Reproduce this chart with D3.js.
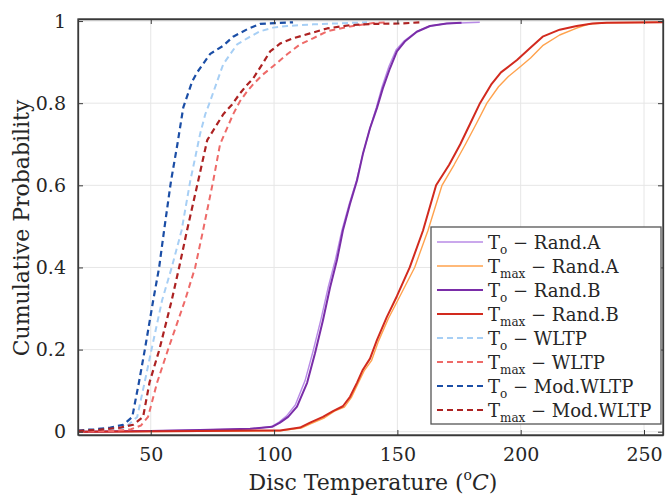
<!DOCTYPE html>
<html>
<head>
<meta charset="utf-8">
<script src="https://cdn.jsdelivr.net/npm/d3@7"></script>
<style>
body { margin: 0; background: #fff; }
svg text { font-family: "DejaVu Serif", serif !important; fill: #262626; }
</style>
</head>
<body>
<svg id="chart" width="665" height="497"></svg>
<script>
const toRandA = [[20.6,0],[49.8,0.002],[70,0.004],[90.3,0.007],[98.8,0.012],[101.9,0.023],[105,0.038],[108.6,0.065],[112.6,0.125],[115.8,0.196],[119.1,0.276],[122,0.353],[124.9,0.42],[127.5,0.49],[130.5,0.555],[133.4,0.611],[136,0.676],[138.9,0.739],[141.5,0.79],[143.8,0.84],[146.6,0.89],[149.5,0.93],[152.8,0.952],[157.9,0.975],[163.2,0.988],[170,0.994],[183.4,0.997]]
const tmaxRandA = [[20.6,0],[70,0.001],[102.4,0.002],[111,0.009],[115,0.02],[120.5,0.034],[124.5,0.05],[128.5,0.06],[131.3,0.083],[134,0.117],[136.5,0.148],[139.5,0.173],[142.3,0.22],[146.3,0.275],[150.6,0.325],[157,0.4],[162.4,0.49],[168.1,0.6],[173,0.65],[177.6,0.7],[182,0.75],[186.3,0.8],[191,0.84],[195,0.865],[199.7,0.888],[204,0.91],[208.9,0.94],[215.8,0.966],[222.7,0.983],[227.9,0.993],[234.8,0.996],[258.3,0.997]]
const toRandB = [[20.6,0],[49.8,0.002],[70,0.004],[90.3,0.007],[99.2,0.012],[102.4,0.022],[105.7,0.036],[109.3,0.061],[113.4,0.119],[116.6,0.191],[119.8,0.271],[122.7,0.351],[125.5,0.418],[127.9,0.49],[130.8,0.555],[133.6,0.611],[136,0.676],[138.9,0.739],[141.7,0.788],[144.1,0.836],[147,0.885],[149.8,0.926],[153,0.95],[157.9,0.974],[163.2,0.988],[170,0.994],[176,0.996]]
const tmaxRandB = [[20.6,0],[70,0.002],[102.4,0.003],[110.5,0.01],[114.6,0.022],[119.8,0.036],[123.9,0.05],[127.9,0.062],[130.8,0.085],[133.6,0.119],[136,0.151],[138.9,0.178],[141.7,0.223],[145.7,0.279],[149.8,0.33],[155,0.4],[160.4,0.49],[165.7,0.6],[171,0.65],[175.5,0.7],[179.5,0.75],[183.5,0.8],[188,0.845],[192,0.875],[198.5,0.905],[203.6,0.933],[208.9,0.962],[215.8,0.979],[222.7,0.988],[229.1,0.994],[234.8,0.996],[258.3,0.997]]
const toWLTP = [[20.6,0.002],[33.6,0.005],[39.7,0.01],[44.5,0.036],[47.5,0.12],[50.3,0.2],[54.6,0.32],[58.5,0.4],[62.5,0.49],[66,0.61],[68,0.667],[70,0.725],[72.1,0.773],[74.1,0.805],[76.9,0.853],[79.4,0.895],[82.2,0.919],[85,0.943],[89.1,0.958],[94.3,0.975],[99.6,0.984],[105.3,0.988],[115.8,0.992],[137.7,0.997]]
const tmaxWLTP = [[20.6,0],[35,0.002],[42,0.006],[46,0.015],[48.9,0.036],[52.6,0.12],[57,0.2],[63.9,0.32],[68,0.4],[71.2,0.49],[75.3,0.61],[78.1,0.7],[81,0.74],[83.4,0.773],[86.2,0.805],[89.1,0.829],[91.5,0.846],[95.5,0.87],[99.6,0.89],[105.3,0.919],[110.5,0.943],[115.8,0.958],[121.5,0.975],[130.8,0.987],[140.1,0.995],[145.7,0.997]]
const toModWLTP = [[20.6,0.003],[27,0.006],[33.6,0.01],[38.9,0.017],[42.5,0.036],[45.2,0.12],[47.6,0.2],[51,0.32],[53.4,0.4],[55.4,0.49],[58.2,0.61],[60.8,0.7],[63.2,0.79],[66.8,0.853],[68.8,0.875],[74.1,0.92],[79.4,0.94],[83.4,0.962],[89.1,0.98],[94.3,0.993],[100.4,0.995],[107.7,0.997]]
const tmaxModWLTP = [[20.6,0.002],[29.6,0.005],[37.7,0.01],[42.9,0.017],[46.9,0.036],[49.5,0.12],[53.5,0.2],[58.5,0.32],[61.5,0.4],[64.7,0.49],[69.2,0.61],[72.9,0.71],[76.9,0.749],[79.4,0.773],[83,0.797],[86.2,0.824],[89.1,0.845],[91.5,0.86],[95.1,0.894],[98.4,0.926],[102.4,0.945],[107.7,0.958],[114.6,0.97],[121.5,0.982],[130.8,0.99],[140.1,0.993],[151,0.994],[159.9,0.997]]

const xTicks = [50, 100, 150, 200, 250]
const yTicks = [0, 0.2, 0.4, 0.6, 0.8, 1]
const subs = ["o", "max", "o", "max", "o", "max", "o", "max"]
const cases = ["Rand.A", "Rand.A", "Rand.B", "Rand.B", "WLTP", "WLTP", "Mod.WLTP", "Mod.WLTP"]

// drawing order = legend order
const series = [
    { data: toRandA, color: "#b88be6", w: 1.4, dash: null },
    { data: tmaxRandA, color: "#ffa24d", w: 1.4, dash: null },
    { data: toRandB, color: "#7a2da8", w: 2, dash: null },
    { data: tmaxRandB, color: "#d22a1e", w: 2, dash: null },
    { data: toWLTP, color: "#a7cff5", w: 2, dash: "6,4" },
    { data: tmaxWLTP, color: "#ee6a68", w: 2, dash: "6,4" },
    { data: toModWLTP, color: "#1b4ea6", w: 2.2, dash: "6,4" },
    { data: tmaxModWLTP, color: "#ad2222", w: 2.2, dash: "6,4" }
]

const L = 78, R = 663, T = 19, B = 435
const svg = d3.select("#chart")

const x = d3.scaleLinear().domain([20.5, 257.7]).range([L, R])
const y = d3.scaleLinear().domain([-0.008, 1.005]).range([B, T])

// grid
svg.append("g").selectAll("line").data(xTicks).enter().append("line")
    .attr("x1", d => x(d)).attr("x2", d => x(d)).attr("y1", T).attr("y2", B)
    .attr("stroke", "#e6e6e6").attr("stroke-width", 1)
svg.append("g").selectAll("line").data(yTicks).enter().append("line")
    .attr("x1", L).attr("x2", R).attr("y1", d => y(d)).attr("y2", d => y(d))
    .attr("stroke", "#e6e6e6").attr("stroke-width", 1)

svg.append("clipPath").attr("id", "clip")
    .append("rect").attr("x", L).attr("y", T - 3).attr("width", R - L).attr("height", B - T + 3)

const line = d3.line().x(d => x(d[0])).y(d => y(d[1]))
svg.append("g").attr("clip-path", "url(#clip)")
    .selectAll("path").data(series).enter().append("path")
    .attr("d", d => line(d.data))
    .attr("fill", "none")
    .attr("stroke", d => d.color)
    .attr("stroke-width", d => d.w)
    .attr("stroke-dasharray", d => d.dash)
    .attr("stroke-linejoin", "round")

// axes (ticks inside, box on)
const fmt = d => d == 0 ? "0" : d == 1 ? "1" : d3.format(".1f")(d)
const xb = svg.append("g").attr("transform", "translate(0," + B + ")")
    .call(d3.axisBottom(x).tickValues(xTicks).tickSizeInner(-5).tickSizeOuter(0).tickPadding(13))
const xt = svg.append("g").attr("transform", "translate(0," + T + ")")
    .call(d3.axisTop(x).tickValues(xTicks).tickSizeInner(-5).tickSizeOuter(0).tickFormat(""))
const yl = svg.append("g").attr("transform", "translate(" + L + ",0)")
    .call(d3.axisLeft(y).tickValues(yTicks).tickFormat(fmt).tickSizeInner(-5).tickSizeOuter(0).tickPadding(12))
const yr = svg.append("g").attr("transform", "translate(" + R + ",0)")
    .call(d3.axisRight(y).tickValues(yTicks).tickSizeInner(-5).tickSizeOuter(0).tickFormat(""))
;[xb, xt, yl, yr].forEach(g => {
    g.attr("font-family", null)
    g.select(".domain").attr("stroke", "#3a3a3a").attr("stroke-width", 1.3)
    g.selectAll(".tick line").attr("stroke", "#3a3a3a")
    g.selectAll("text").attr("font-size", 19).attr("fill", "#262626")
})
svg.append("rect").attr("x", L).attr("y", T).attr("width", R - L).attr("height", B - T)
    .attr("fill", "none").attr("stroke", "#3a3a3a").attr("stroke-width", 1.3)

// axis titles
const xl = svg.append("text").attr("x", 373).attr("y", 490).attr("text-anchor", "middle").attr("font-size", 22)
xl.append("tspan").text("Disc Temperature (")
xl.append("tspan").attr("font-size", 14).attr("dy", -10).text("o")
xl.append("tspan").attr("font-style", "italic").attr("dy", 10).text("C")
xl.append("tspan").text(")")

svg.append("text").attr("transform", "translate(29,228) rotate(-90)")
    .attr("text-anchor", "middle").attr("font-size", 22).text("Cumulative Probability")

// legend
const lg = svg.append("g")
lg.append("rect").attr("x", 431).attr("y", 227).attr("width", 230).attr("height", 197)
    .attr("fill", "#fff").attr("stroke", "#555").attr("stroke-width", 1.3)
series.forEach((s, i) => {
    const cy = 242 + i * 24
    lg.append("line").attr("x1", 437).attr("x2", 483).attr("y1", cy).attr("y2", cy)
        .attr("stroke", s.color).attr("stroke-width", s.w).attr("stroke-dasharray", s.dash)
    const t = lg.append("text").attr("x", 488).attr("y", cy + 7).attr("font-size", 18)
    t.append("tspan").text("T")
    t.append("tspan").attr("font-size", 12).attr("dy", 5).text(subs[i])
    t.append("tspan").attr("dy", -5).text(" \u2212 " + cases[i])
})
</script>
</body>
</html>
